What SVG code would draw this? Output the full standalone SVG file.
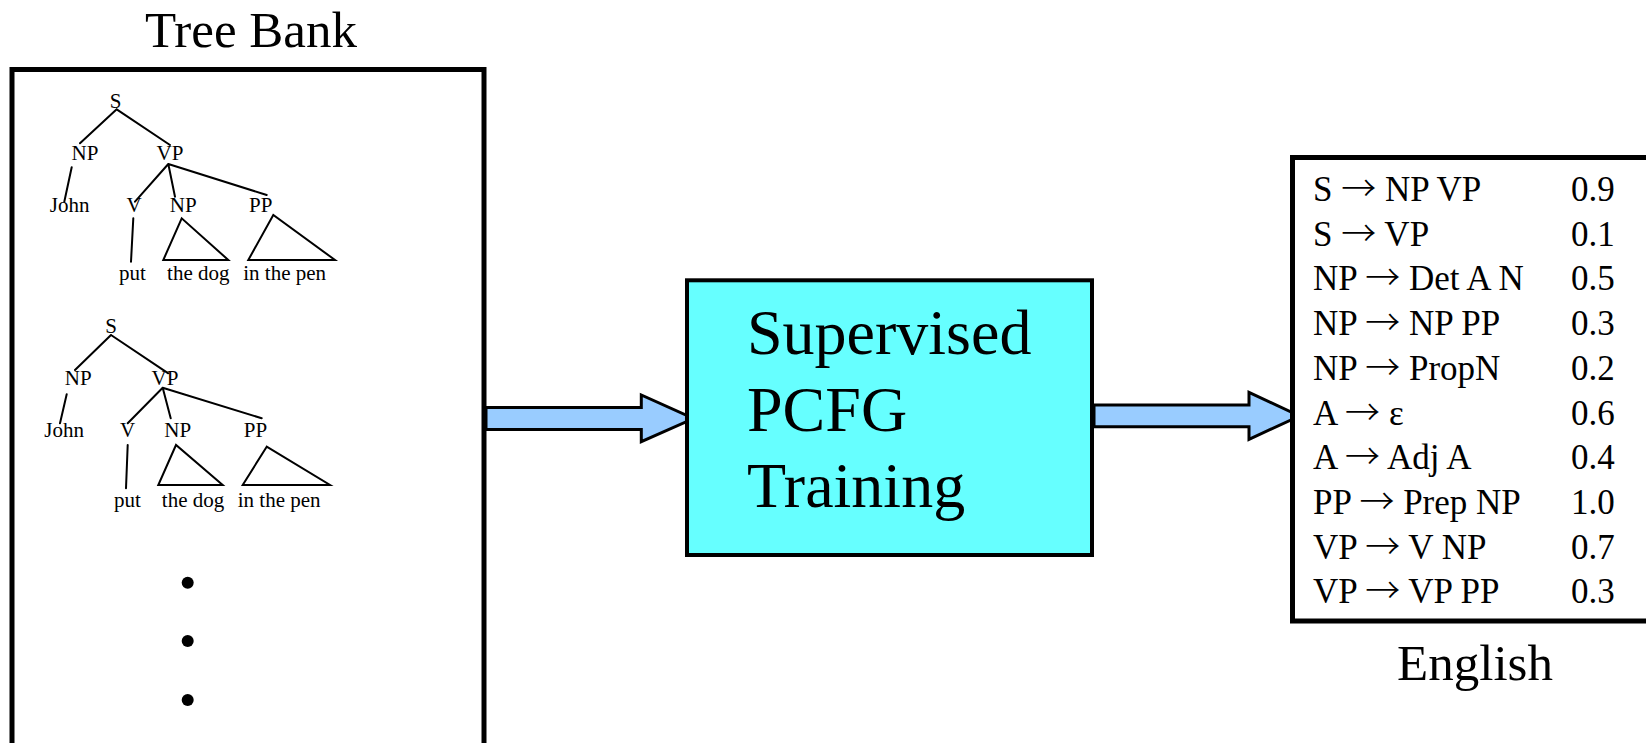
<svg xmlns="http://www.w3.org/2000/svg" width="1646" height="743" viewBox="0 0 1646 743">
<style>
text{font-family:"Liberation Serif","Times New Roman",serif;fill:#000}
.t{font-size:21px;text-anchor:middle}
.big{font-size:51px;text-anchor:middle}
.mid{font-size:64px}
.rule{font-size:35px}
.ar{font-family:"Noto Sans CJK JP","DejaVu Sans",sans-serif;font-weight:300}
.ln{stroke:#000;stroke-width:2;fill:none;stroke-linecap:round}
.arrow{fill:#99CCFF;stroke:#000;stroke-width:3;stroke-linejoin:miter}
</style>
<rect width="1646" height="743" fill="#fff"/>
<g id="treebank">
<rect x="12" y="69.5" width="472" height="700" fill="#fff" stroke="#000" stroke-width="5"/>
<text class="big" x="251" y="47">Tree Bank</text>
<g id="tree1">
<path class="ln" d="M116.7,109.3 L80,143.3 M116.7,109.3 L170,145 M71.7,167.3 L64.3,201.7 M168.3,164 L135,201.7 M168.3,164 L175,196.7 M168.3,164 L266.7,195 M133.3,218.3 L131,261.7 M181.7,218.3 L163.3,260 L228.3,260 Z M273.3,215 L248.3,260 L335,260 Z"/>
<text class="t" x="115.7" y="108">S</text>
<text class="t" x="85" y="160">NP</text>
<text class="t" x="170" y="160">VP</text>
<text class="t" x="69.7" y="211.7">John</text>
<text class="t" x="134" y="211.7">V</text>
<text class="t" x="183.3" y="211.7">NP</text>
<text class="t" x="260.8" y="211.7">PP</text>
<text class="t" x="132.5" y="280">put</text>
<text class="t" x="198.3" y="280">the dog</text>
<text class="t" x="284.7" y="280">in the pen</text>
</g>
<g id="tree2">
<path class="ln" d="M111,335 L75,370 M111,335 L168.3,373.3 M66.7,394.3 L60,423.3 M162.7,387.7 L127.7,423.3 M162.7,387.7 L170.7,418.3 M162.7,387.7 L261.7,418.3 M127.7,445 L126,488.3 M176,445 L158.3,485 L222.7,485 Z M266.7,446.7 L242.7,485 L330,485 Z"/>
<text class="t" x="111" y="333.3">S</text>
<text class="t" x="78.3" y="385">NP</text>
<text class="t" x="165" y="385">VP</text>
<text class="t" x="64.2" y="437.3">John</text>
<text class="t" x="127.5" y="437.3">V</text>
<text class="t" x="177.8" y="437.3">NP</text>
<text class="t" x="255.5" y="437.3">PP</text>
<text class="t" x="127.5" y="506.7">put</text>
<text class="t" x="193" y="506.7">the dog</text>
<text class="t" x="279.2" y="506.7">in the pen</text>
</g>
<g id="dots">
<circle cx="187.7" cy="582.7" r="6"/>
<circle cx="187.7" cy="641" r="6"/>
<circle cx="187.7" cy="700" r="6"/>
</g>
</g>
<g id="connectors">
<path class="arrow" d="M486,407.5 H641.3 V395 L693.5,418.5 L641.3,441.7 V429.5 H486 Z"/>
<path class="arrow" d="M1094,405 H1249 V392.3 L1299.5,416 L1249,439.3 V426.7 H1094 Z"/>
</g>
<g id="training">
<rect x="687" y="280.3" width="405" height="274.7" fill="#66FFFF" stroke="#000" stroke-width="4"/>
<text class="mid" x="747" y="354">Supervised</text>
<text class="mid" x="747" y="430.7">PCFG</text>
<text class="mid" x="747" y="507.3">Training</text>
</g>
<g id="grammar">
<rect x="1292.5" y="157.5" width="400" height="463.5" fill="#fff" stroke="#000" stroke-width="5"/>
<g class="rule">
<text x="1313" y="201">S <tspan class="ar">→</tspan> NP VP</text><text x="1571" y="201">0.9</text>
<text x="1313" y="245.7">S <tspan class="ar">→</tspan> VP</text><text x="1571" y="245.7">0.1</text>
<text x="1313" y="290.4">NP <tspan class="ar">→</tspan> Det A N</text><text x="1571" y="290.4">0.5</text>
<text x="1313" y="335.1">NP <tspan class="ar">→</tspan> NP PP</text><text x="1571" y="335.1">0.3</text>
<text x="1313" y="379.8">NP <tspan class="ar">→</tspan> PropN</text><text x="1571" y="379.8">0.2</text>
<text x="1313" y="424.5">A <tspan class="ar">→</tspan> ε</text><text x="1571" y="424.5">0.6</text>
<text x="1313" y="469.2">A <tspan class="ar">→</tspan> Adj A</text><text x="1571" y="469.2">0.4</text>
<text x="1313" y="513.9">PP <tspan class="ar">→</tspan> Prep NP</text><text x="1571" y="513.9">1.0</text>
<text x="1313" y="558.6">VP <tspan class="ar">→</tspan> V NP</text><text x="1571" y="558.6">0.7</text>
<text x="1313" y="603.3">VP <tspan class="ar">→</tspan> VP PP</text><text x="1571" y="603.3">0.3</text>
</g>
<text class="big" x="1475" y="680">English</text>
</g>
</svg>
